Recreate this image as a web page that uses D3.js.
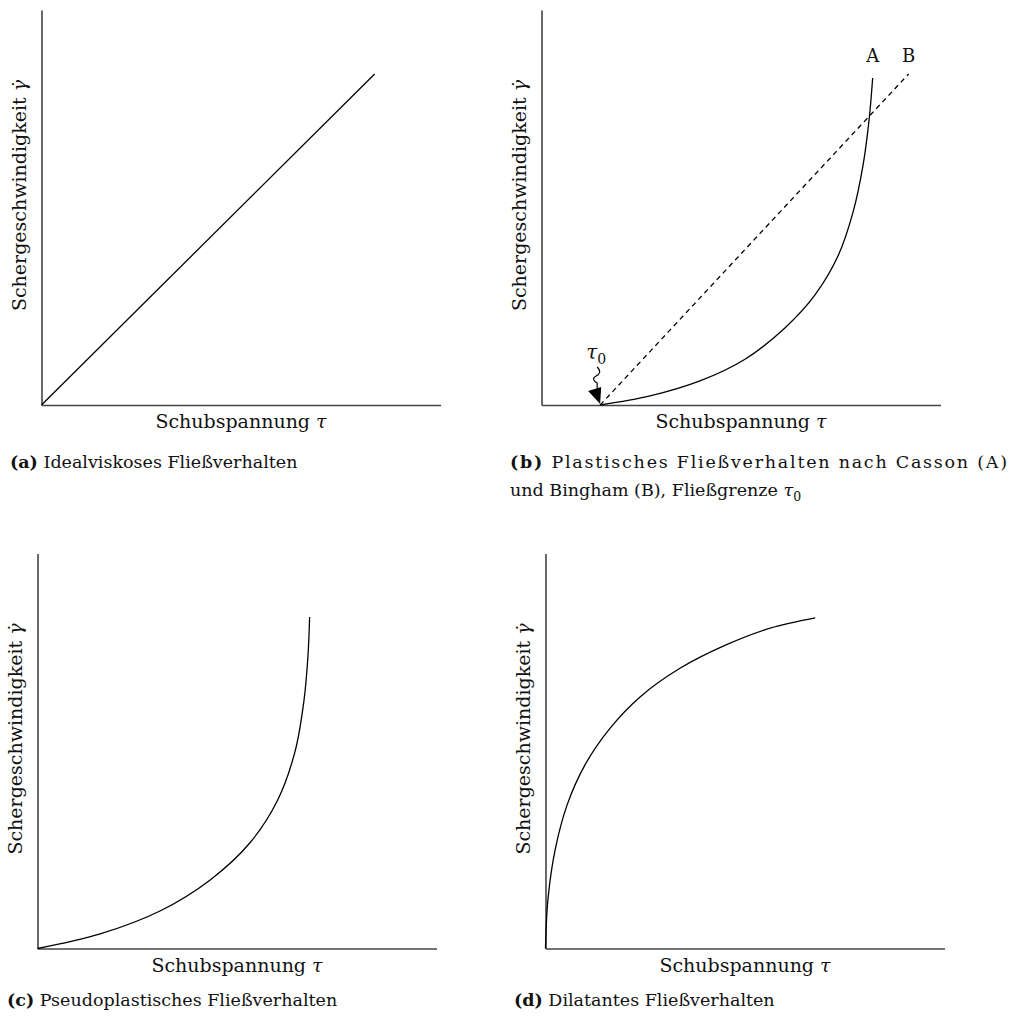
<!DOCTYPE html>
<html>
<head>
<meta charset="utf-8">
<script src="https://cdn.jsdelivr.net/npm/d3@7"></script>
<style>
  body { margin: 0; background: #fff; }
  text { font-family: 'DejaVu Serif', 'Liberation Serif', serif; fill: #111; }
</style>
</head>
<body>
<svg id="chart" width="1009" height="1018"></svg>
<script>
// values, normalised to 0..1 on both axes
const idealX = [0, 0.835];
const idealY = [0, 0.838];

const cassonX = [0.147, 0.272, 0.397, 0.510, 0.610, 0.685, 0.743, 0.781, 0.806, 0.821, 0.830];
const cassonY = [0, 0.023, 0.061, 0.116, 0.195, 0.278, 0.377, 0.489, 0.608, 0.722, 0.828];

const binghamX = [0.147, 0.92];
const binghamY = [0, 0.838];

const pseudoX = [0, 0.157, 0.307, 0.432, 0.532, 0.602, 0.645, 0.668, 0.678, 0.682];
const pseudoY = [0, 0.037, 0.095, 0.173, 0.267, 0.376, 0.497, 0.629, 0.743, 0.839];

const dilatantX = [0, 0.006, 0.024, 0.054, 0.099, 0.162, 0.237, 0.338, 0.451, 0.563, 0.676];
const dilatantY = [0, 0.123, 0.249, 0.363, 0.465, 0.558, 0.637, 0.710, 0.768, 0.811, 0.837];

const tau0 = 0.147;

const xLabel = 'Schubspannung';
const yLabel = 'Schergeschwindigkeit';
const captionTags = ['(a)', '(b)', '(c)', '(d)'];
const captionTexts = [
  ['Idealviskoses Fließverhalten'],
  ['Plastisches Fließverhalten nach Casson (A)', 'und Bingham (B), Fließgrenze '],
  ['Pseudoplastisches Fließverhalten'],
  ['Dilatantes Fließverhalten'],
];

const width = 399;
const height = 395;

const svg = d3.select('#chart');

const panels = [
  { left: 41.5, bottom: 405, capX: 10, capY: 468 },
  { left: 541.5, bottom: 405, capX: 510, capY: 468, justifyTo: 1007 },
  { left: 37.5, bottom: 948.5, capX: 7, capY: 1006 },
  { left: 545.5, bottom: 948.5, capX: 514, capY: 1006 },
];

const zip = (xs, ys) => xs.map((v, i) => [v, ys[i]]);

function drawPanel(i) {
  const p = panels[i];
  const g = svg.append('g')
    .attr('transform', `translate(${p.left},${p.bottom - height})`);

  const x = d3.scaleLinear().domain([0, 1]).range([0, width]);
  const y = d3.scaleLinear().domain([0, 1]).range([height, 0]);

  const xAxis = g.append('g')
    .attr('transform', `translate(0,${height})`)
    .call(d3.axisBottom(x).tickValues([]).tickSizeOuter(0));
  const yAxis = g.append('g')
    .call(d3.axisLeft(y).tickValues([]).tickSizeOuter(0));
  [xAxis, yAxis].forEach((a) => a.select('.domain')
    .attr('stroke', '#444')
    .attr('stroke-width', 1.6));

  g.append('text')
    .attr('x', width / 2)
    .attr('y', height + 23)
    .attr('text-anchor', 'middle')
    .style('font-size', '19px')
    .text(xLabel + ' ')
    .append('tspan')
    .style('font-style', 'italic')
    .text('τ');

  g.append('text')
    .attr('transform', `translate(-16,${height / 2 - 12}) rotate(-90)`)
    .attr('text-anchor', 'middle')
    .style('font-size', '19px')
    .text(yLabel + ' ')
    .append('tspan')
    .style('font-style', 'italic')
    .text('γ̇');

  // caption
  const cap = svg.append('text')
    .attr('x', p.capX)
    .attr('y', p.capY)
    .style('font-size', '17.5px');
  cap.append('tspan').style('font-weight', 'bold').text(captionTags[i]);
  cap.append('tspan').text(' ' + captionTexts[i][0]);
  if (p.justifyTo) {
    // first caption line is justified in the original
    cap.attr('textLength', p.justifyTo - p.capX).attr('lengthAdjust', 'spacing');
  }
  if (captionTexts[i].length > 1) {
    const cap2 = svg.append('text')
      .attr('x', p.capX)
      .attr('y', p.capY + 28)
      .style('font-size', '17.5px');
    cap2.append('tspan').text(captionTexts[i][1]);
    cap2.append('tspan').style('font-style', 'italic').text('τ');
    cap2.append('tspan').attr('dy', 5).style('font-size', '12.5px').text('0');
  }

  return { g, x, y };
}

const line = (x, y) => d3.line()
  .x((d) => x(d[0]))
  .y((d) => y(d[1]))
  .curve(d3.curveCatmullRom.alpha(0.5));

function curve(panel, data, dashed) {
  panel.g.append('path')
    .datum(data)
    .attr('d', line(panel.x, panel.y))
    .attr('fill', 'none')
    .attr('stroke', '#000')
    .attr('stroke-width', 1.3)
    .attr('stroke-dasharray', dashed ? '5,4' : null);
}

// (a)
const pa = drawPanel(0);
curve(pa, zip(idealX, idealY));

// (b)
const pb = drawPanel(1);
curve(pb, zip(binghamX, binghamY), true);
curve(pb, zip(cassonX, cassonY));

pb.g.append('text')
  .attr('x', pb.x(cassonX[cassonX.length - 1]))
  .attr('y', pb.y(binghamY[1]) - 12)
  .attr('text-anchor', 'middle')
  .style('font-size', '18px')
  .text('A');
pb.g.append('text')
  .attr('x', pb.x(binghamX[1]))
  .attr('y', pb.y(binghamY[1]) - 12)
  .attr('text-anchor', 'middle')
  .style('font-size', '18px')
  .text('B');

// tau0 annotation with wavy arrow
const tx = pb.x(tau0);
const ty = pb.y(0);
const t0 = pb.g.append('text')
  .attr('x', tx - 14)
  .attr('y', ty - 46)
  .style('font-size', '20px');
t0.append('tspan').style('font-style', 'italic').text('τ');
t0.append('tspan').attr('dy', 5).style('font-size', '14px').text('0');

pb.g.append('path')
  .attr('d', `M${tx - 3},${ty - 38} c4,4 3,7 -1,9 c-4,2 -3,5 1,7 L${tx - 3},${ty - 16}`)
  .attr('fill', 'none')
  .attr('stroke', '#000')
  .attr('stroke-width', 1.2);
pb.g.append('path')
  .attr('d', `M${tx},${ty - 1} L${tx - 12},${ty - 14} L${tx + 1},${ty - 18} Z`)
  .attr('fill', '#000');

// (c)
const pc = drawPanel(2);
curve(pc, zip(pseudoX, pseudoY));

// (d)
const pd = drawPanel(3);
curve(pd, zip(dilatantX, dilatantY));
</script>
</body>
</html>
